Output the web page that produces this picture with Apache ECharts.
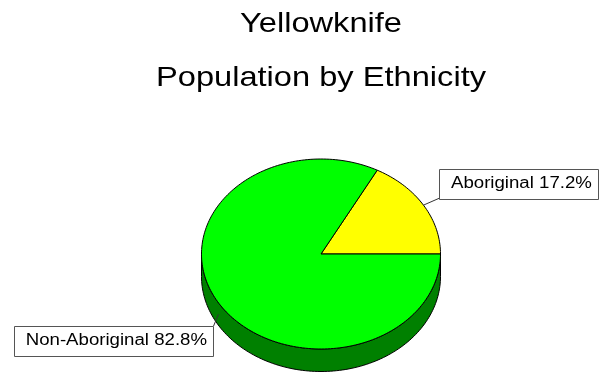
<!DOCTYPE html>
<html><head><meta charset="utf-8">
<script src="https://cdn.jsdelivr.net/npm/echarts@6/dist/echarts.min.js"></script>
<style>html,body{margin:0;padding:0;background:#fff}#c{width:600px;height:373px}</style>
</head><body><div id="c"></div>
<script>
// ---- data ----
const titleLines = ['Yellowknife', 'Population by Ethnicity'];
const categories = ['Aboriginal', 'Non-Aboriginal'];
const values = [17.2, 82.8];
const sliceColors = ['#FFFF00', '#00FF00'];
const sideColors = ['#808000', '#008000'];

// ---- layout ----
const CX = 321, CY = 254, RX = 119.5, RY = 95, DEPTH = 22.5, SX = 1.165;
const FONT = '"Liberation Sans", Arial, sans-serif';
const total = values.reduce((a, b) => a + b, 0);
const startDeg = []; let acc = 0;
values.forEach(v => { startDeg.push(acc / total * 360); acc += v; });

const mctx = document.createElement('canvas').getContext('2d');
mctx.font = '16px ' + FONT;

function pt(tDeg, dy) {
  const t = tDeg * Math.PI / 180;
  return [CX + RX * Math.cos(t), CY - RY * Math.sin(t) + (dy || 0)];
}
function arc(a0, a1, dy) {
  const n = Math.max(2, Math.ceil(Math.abs(a1 - a0) / 1.5));
  const p = [];
  for (let i = 0; i <= n; i++) p.push(pt(a0 + (a1 - a0) * i / n, dy));
  return p;
}

function renderItem(params, api) {
  const i = params.dataIndex;
  const v = api.value(0);
  const a0 = startDeg[i], a1 = a0 + v / total * 360;
  const children = [];
  const s = Math.max(a0, 180), e = Math.min(a1, 360);
  if (e > s) {
    children.push({
      type: 'polygon', z2: 1,
      shape: { points: arc(s, e, 0).concat(arc(e, s, DEPTH)) },
      style: { fill: sideColors[i], stroke: '#000', lineWidth: 1 }
    });
  }
  children.push({
    type: 'polygon', z2: 10,
    shape: { points: [[CX, CY]].concat(arc(a0, a1, 0)) },
    style: { fill: sliceColors[i], stroke: '#000', lineWidth: 1 }
  });
  const m = (a0 + a1) / 2;
  const onSide = m > 180 && m < 360;
  const anc = pt(m, onSide ? DEPTH / 2 : 0);
  const txt = categories[i] + ' ' + v.toFixed(1) + '%';
  const tw = mctx.measureText(txt).width * SX;
  const bw = tw + 18, bh = 29.5;
  let bx, by, corner;
  if (Math.cos(m * Math.PI / 180) >= 0) {
    bx = anc[0] + 16; by = anc[1] - 7 - bh; corner = [bx, by + bh];
  } else {
    bx = anc[0] - 5 - bw; by = anc[1] + 12; corner = [bx + bw, by];
  }
  children.push({
    type: 'line', z2: 20,
    shape: { x1: anc[0], y1: anc[1], x2: corner[0], y2: corner[1] },
    style: { stroke: '#333', lineWidth: 1 }
  });
  children.push({
    type: 'rect', z2: 20,
    shape: { x: Math.round(bx) + 0.5, y: Math.round(by) + 0.5, width: Math.round(bw), height: Math.round(bh) },
    style: { fill: '#fff', stroke: '#555', lineWidth: 1 }
  });
  children.push({
    type: 'text', z2: 21,
    x: bx + 11.5, y: by + bh / 2, scaleX: SX,
    style: { text: txt, font: '16px ' + FONT, fill: '#000', align: 'left', verticalAlign: 'middle' }
  });
  return { type: 'group', children: children };
}

const chart = echarts.init(document.getElementById('c'));
chart.setOption({
  animation: false,
  backgroundColor: '#fff',
  graphic: titleLines.map((t, k) => ({
    type: 'text', x: 321, y: 24 + k * 54, scaleX: SX,
    style: { text: t, font: '28px ' + FONT, fill: '#000', align: 'center', verticalAlign: 'middle' }
  })),
  series: [{
    type: 'custom',
    coordinateSystem: 'none',
    renderItem: renderItem,
    data: values.map((v, i) => ({ name: categories[i], value: [v] }))
  }]
});
</script>
</body></html>
